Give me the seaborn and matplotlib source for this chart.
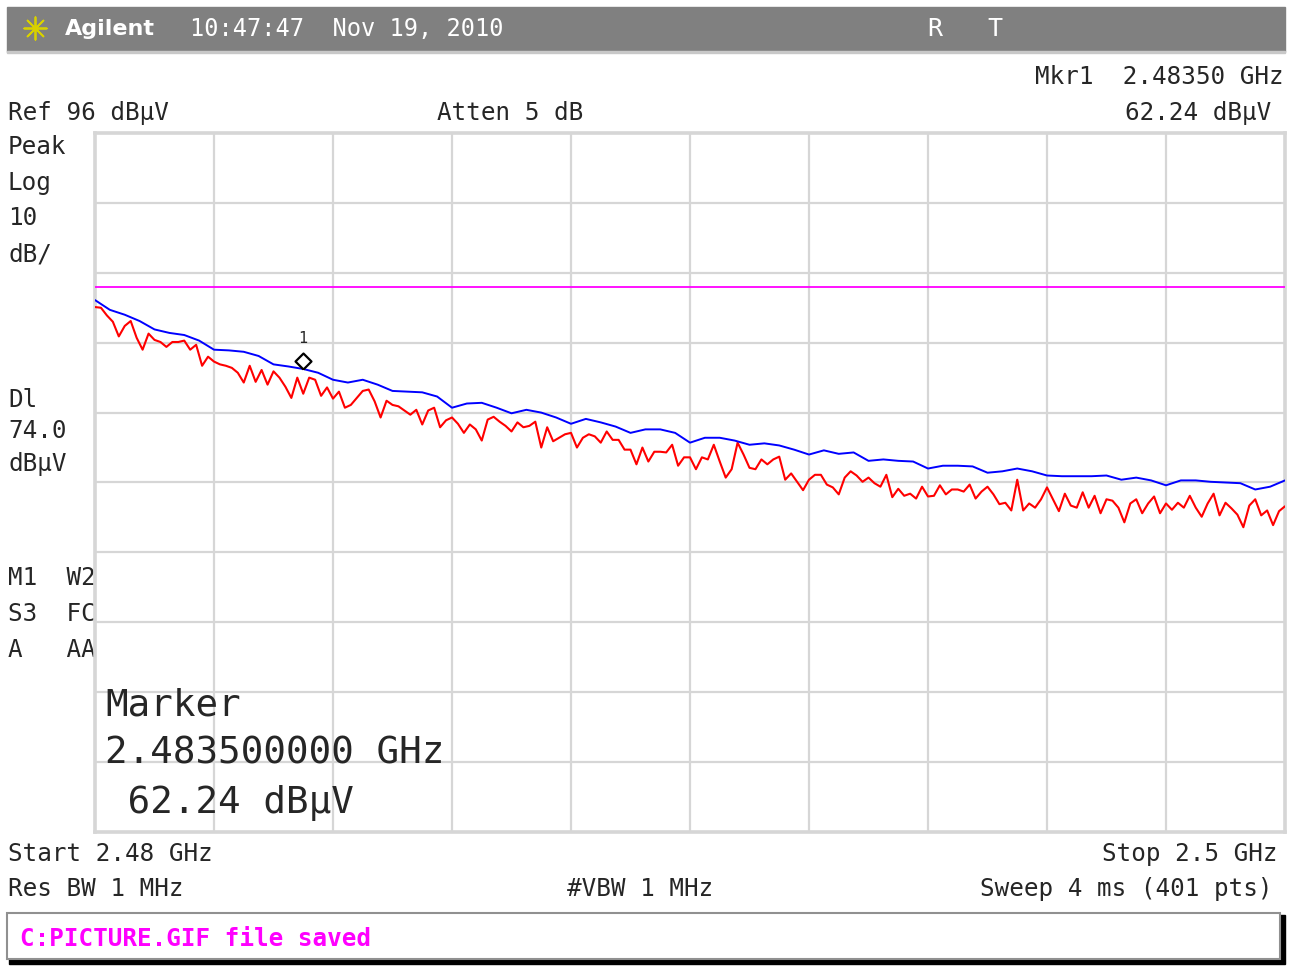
import numpy as np
import pandas as pd
import matplotlib
matplotlib.use("Agg")
import matplotlib.pyplot as plt
import seaborn as sns
from matplotlib.patches import Rectangle
from matplotlib.path import Path

sns.set_style("white")
plt.rcParams['font.family'] = ['DejaVu Sans Mono', 'DejaVu Sans']

start_ghz = 2.48
stop_ghz = 2.5
ref_level = 96
db_per_div = 10
display_line = 74.0
marker_freq = 2.4835
marker_level = 62.24

# trace 2 (blue, max hold), dBuV
max_hold = [72.1, 70.7, 70.0, 69.1, 67.9, 67.4, 67.1, 66.3, 65.0, 64.9,
            64.7, 64.1, 62.9, 62.6, 62.24, 61.7, 60.7, 60.3, 60.7, 60.0,
            59.1, 59.0, 58.9, 58.3, 56.7, 57.3, 57.4, 56.7, 55.9, 56.4,
            56.0, 55.3, 54.4, 55.1, 54.6, 54.0, 53.1, 53.6, 53.6, 53.1,
            51.7, 52.4, 52.4, 52.0, 51.4, 51.6, 51.3, 50.7, 50.0, 50.6,
            50.1, 50.3, 49.1, 49.3, 49.1, 49.0, 48.0, 48.4, 48.4, 48.3,
            47.4, 47.6, 48.0, 47.6, 47.0, 46.9, 46.9, 46.9, 47.0, 46.4,
            46.7, 46.3, 45.6, 46.3, 46.3, 46.1, 46.0, 45.9, 45.0, 45.4,
            46.3]

# trace 1 (red, clear write), dBuV
live_trace = [71.1, 71.0, 69.9, 69.0, 66.9, 68.4, 69.1, 66.7, 65.0, 67.3,
              66.4, 66.1, 65.4, 66.1, 66.1, 66.3, 65.0, 65.7, 62.7, 64.0,
              63.3, 62.9, 62.7, 62.4, 61.7, 60.3, 62.7, 60.4, 62.1, 60.0,
              61.9, 61.0, 59.7, 58.1, 61.0, 58.7, 61.0, 60.7, 58.4, 59.6,
              58.0, 59.0, 56.7, 57.1, 58.1, 59.1, 59.3, 57.6, 55.3, 57.7,
              57.1, 56.9, 56.3, 55.7, 56.4, 54.3, 56.3, 56.7, 53.9, 54.9,
              55.3, 54.4, 53.1, 54.3, 53.6, 52.0, 55.0, 55.4, 54.7, 54.1,
              53.3, 54.6, 53.9, 54.1, 54.7, 51.0, 53.9, 51.9, 52.4, 52.9,
              53.1, 51.0, 52.4, 52.9, 52.6, 51.7, 53.3, 52.1, 52.1, 50.7,
              50.7, 48.6, 51.0, 49.0, 50.4, 50.4, 50.3, 51.4, 48.4, 49.6,
              49.6, 47.9, 49.6, 49.3, 51.4, 49.0, 46.7, 47.9, 51.7, 50.0,
              48.1, 47.9, 49.3, 48.6, 49.3, 49.7, 46.4, 47.3, 46.1, 44.9,
              46.4, 47.1, 47.1, 45.7, 45.3, 44.3, 46.7, 47.6, 47.0, 46.1,
              46.7, 45.9, 45.4, 47.1, 43.9, 45.1, 44.1, 44.4, 43.7, 45.4,
              44.0, 44.1, 45.6, 44.3, 45.0, 45.0, 44.7, 45.7, 43.7, 44.7,
              45.4, 44.3, 42.9, 43.1, 42.0, 46.4, 42.0, 43.0, 42.4, 43.6,
              45.3, 43.6, 41.9, 44.4, 42.7, 42.4, 44.6, 42.4, 44.1, 41.6,
              43.6, 43.4, 42.4, 40.3, 43.0, 43.6, 41.6, 43.0, 44.0, 41.6,
              43.0, 42.1, 43.1, 42.4, 44.1, 42.4, 41.1, 43.0, 44.4, 41.3,
              43.1, 42.3, 41.4, 39.6, 42.7, 43.6, 41.3, 42.0, 39.9, 41.9,
              42.6]

blue_df = pd.DataFrame({'freq': np.linspace(start_ghz, stop_ghz, len(max_hold)), 'level': max_hold})
red_df = pd.DataFrame({'freq': np.linspace(start_ghz, stop_ghz, len(live_trace)), 'level': live_trace})

W, H = 1291, 966
fig = plt.figure(figsize=(W / 100, H / 100), dpi=100)
fig.patch.set_facecolor('white')

# screen background layer (pixel coords)
bg = fig.add_axes([0, 0, 1, 1])
bg.set_xlim(0, W)
bg.set_ylim(H, 0)
bg.axis('off')

bg.add_patch(Rectangle((7, 7), 1278, 45, color='#808080'))
bg.add_patch(Rectangle((7, 51), 1278, 2, color='#c8c8c8'))
bg.scatter([35], [28], marker=(8, 2, 0), s=260, color='#d8d000', linewidths=1.3)
bg.text(65, 29, 'Agilent', color='white', fontsize=16, fontweight='bold',
        family='DejaVu Sans', va='center', ha='left')
bg.text(190, 29, '10:47:47  Nov 19, 2010', color='white', fontsize=17, va='center')
bg.text(935, 29, 'R', color='white', fontsize=18, va='center', ha='center')
bg.text(995, 29, 'T', color='white', fontsize=18, va='center', ha='center')

fs = 17.5
bg.text(1284, 77, 'Mkr1  2.48350 GHz', fontsize=fs, va='center', ha='right')
bg.text(1271, 113, '62.24 dBµV', fontsize=fs, va='center', ha='right')
bg.text(8, 113, 'Ref 96 dBµV', fontsize=fs, va='center')
bg.text(437, 113, 'Atten 5 dB', fontsize=fs, va='center')
for txt, yy in [('Peak', 147), ('Log', 183), ('10', 218), ('dB/', 254),
                ('Dl', 400), ('74.0', 431), ('dBµV', 464),
                ('M1  W2', 578), ('S3  FC', 614), ('A   AA', 650)]:
    bg.text(8, yy, txt, fontsize=fs, va='center')
bg.text(8, 854, 'Start 2.48 GHz', fontsize=fs, va='center')
bg.text(1278, 854, 'Stop 2.5 GHz', fontsize=fs, va='center', ha='right')
bg.text(8, 889, 'Res BW 1 MHz', fontsize=fs, va='center')
bg.text(567, 889, '#VBW 1 MHz', fontsize=fs, va='center')
bg.text(1273, 889, 'Sweep 4 ms (401 pts)', fontsize=fs, va='center', ha='right')

bg.add_patch(Rectangle((9, 915), 1276, 49, color='black'))
bg.add_patch(Rectangle((7, 913), 1273, 46, facecolor='white', edgecolor='#909090', lw=1.5))
bg.text(20, 939, 'C:PICTURE.GIF file saved', fontsize=17.5, fontweight='bold',
        color='#ff00ff', va='center')

# graticule
ax = fig.add_axes([95 / W, 1 - 832 / H, 1190 / W, 699 / H])
ax.set_facecolor('white')
ax.set_xlim(start_ghz, stop_ghz)
ax.set_ylim(ref_level - 10 * db_per_div, ref_level)
ax.set_xticks(np.linspace(start_ghz, stop_ghz, 11))
ax.set_yticks(np.arange(ref_level - 10 * db_per_div, ref_level + 1, db_per_div))
ax.tick_params(length=0, labelbottom=False, labelleft=False)
ax.grid(True, color='#d6d6d6', lw=1.6)
for sp in ax.spines.values():
    sp.set_color('#d6d6d6')
    sp.set_linewidth(2.6)

ax.axhline(display_line, color='#ff00ff', lw=1.3, zorder=3)
sns.lineplot(data=red_df, x='freq', y='level', color='#ff0000', lw=1.5, ax=ax, zorder=4)
sns.lineplot(data=blue_df, x='freq', y='level', color='#0000ff', lw=1.4, ax=ax, zorder=5)
ax.set_xlabel('')
ax.set_ylabel('')

diamond = Path([(0, 0), (1, 1), (0, 2), (-1, 1), (0, 0)])
ax.plot([marker_freq], [marker_level], marker=diamond, markersize=23,
        mfc='white', mec='black', mew=1.6, ls='none', zorder=6)
ax.annotate('1', (marker_freq, marker_level), xytext=(0, 22), textcoords='offset points',
            ha='center', va='center', fontsize=11, zorder=6)

# large marker readout inside the graticule
for txt, yy in [('Marker', 706), ('2.483500000 GHz', 753), (' 62.24 dBµV', 803)]:
    fig.text(105 / W, 1 - yy / H, txt, fontsize=27, va='center', zorder=10)

bg.set_zorder(0)
ax.set_zorder(1)

fig.savefig('out.png', dpi=100)
